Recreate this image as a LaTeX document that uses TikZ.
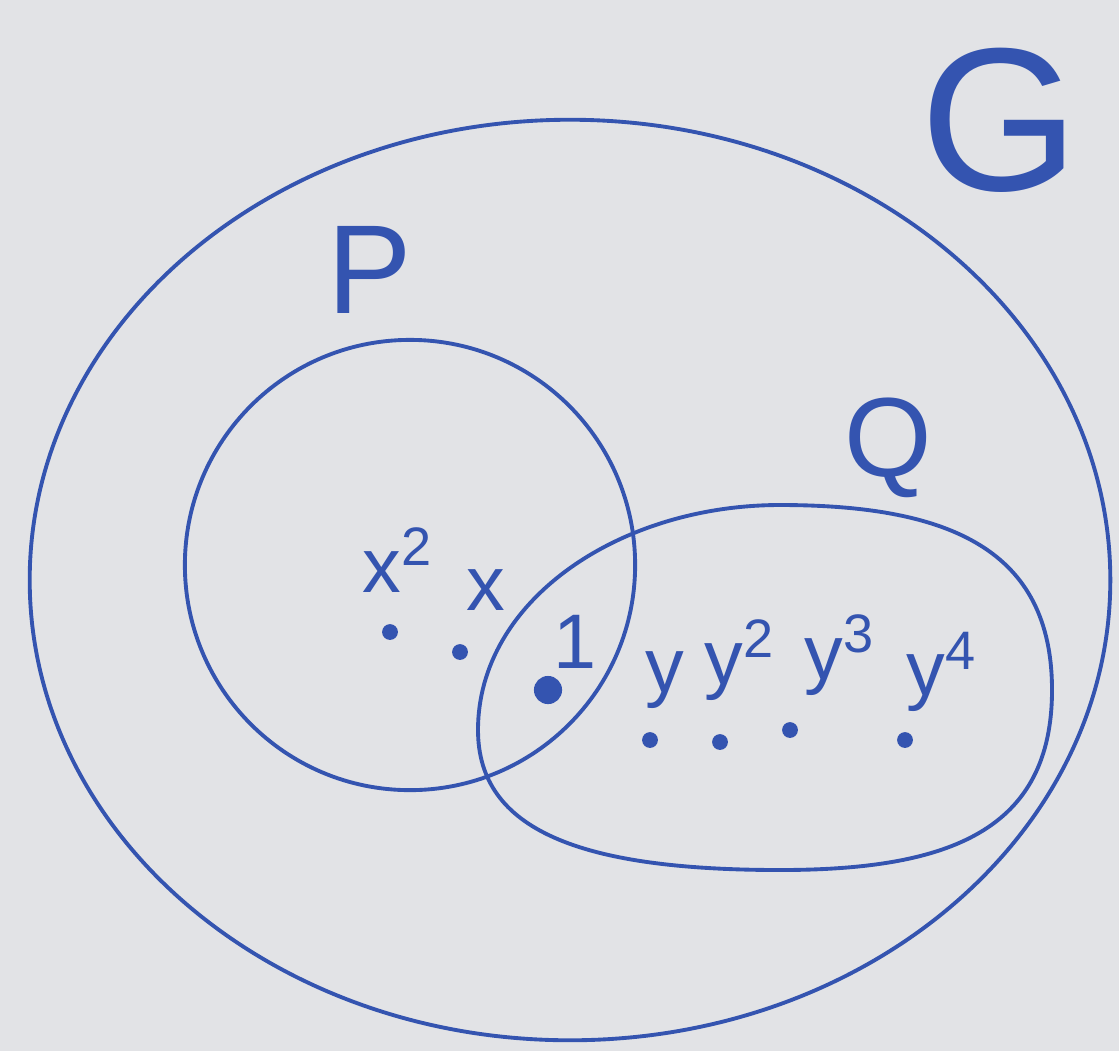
\documentclass[tikz,border=0pt]{standalone}
\usepackage{fontspec}
\setmainfont{Liberation Sans}
\usetikzlibrary{shapes.geometric}
\definecolor{InkBlue}{RGB}{52,84,176}
\definecolor{BoardBg}{RGB}{226,227,230}
\tikzset{
  set_line/.style={draw=InkBlue,line width=1.1pt},
  set_name/.style={text=InkBlue,inner sep=0pt},
  elt_lbl/.style={text=InkBlue,inner sep=0pt,font=\fontsize{22}{26}\selectfont},
  elt_dot/.style={circle,fill=InkBlue,inner sep=0pt,minimum size=4.5pt},
}
\begin{document}
\begin{tikzpicture}[x=0.01cm,y=-0.01cm]
\fill[BoardBg](0,0) rectangle (1119,1051);
\useasboundingbox(0,0) rectangle (1119,1051);
% sets
\node[set_line,ellipse,minimum width=10.8cm,minimum height=9.2cm] at (570,580)(G){};
\node[set_line,circle,minimum size=4.5cm] at (410,565)(P){};
\draw[set_line](478,730) .. controls (478,600) and (620,505) .. (780,505)
  .. controls (950,505) and (1052,550) .. (1052,690)
  .. controls (1052,830) and (950,870) .. (780,870)
  .. controls (580,870) and (478,830) .. cycle;
\node[set_name,font=\fontsize{58}{64}\selectfont] at (1000,120)(lG){G};
\node[set_name,font=\fontsize{36}{40}\selectfont] at (370,270)(lP){P};
\node[set_name,font=\fontsize{32}{36}\selectfont] at (888,448)(lQ){Q};
% elements
\node[elt_lbl] at (398,560)(lx2){x\textsuperscript{2}};
\node[elt_dot] at (390,632)(dx2){};
\node[elt_lbl] at (486,590)(lx){x};
\node[elt_lbl] at (575,642)(l1){1};
\node[elt_dot] at (460,652)(dx){};
\node[elt_dot,minimum size=8pt] at (548,690)(d1){};
\node[elt_lbl] at (665,680)(ly){y};
\node[elt_dot] at (650,740)(dy){};
\node[elt_lbl] at (740,660)(ly2){y\textsuperscript{2}};
\node[elt_dot] at (720,742)(dy2){};
\node[elt_lbl] at (840,655)(ly3){y\textsuperscript{3}};
\node[elt_dot] at (790,730)(dy3){};
\node[elt_lbl] at (942,672)(ly4){y\textsuperscript{4}};
\node[elt_dot] at (905,740)(dy4){};
\end{tikzpicture}
\end{document}
